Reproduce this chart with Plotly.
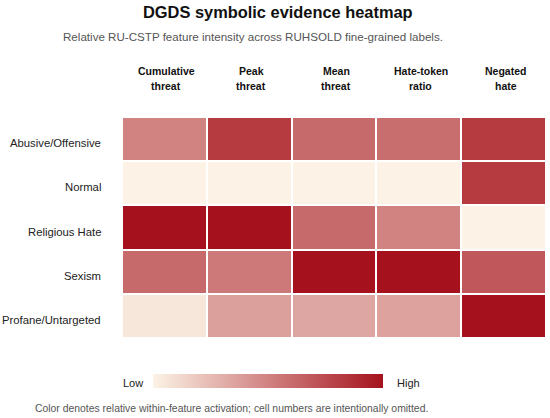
import plotly.graph_objects as go

features = ["Cumulative<br>threat", "Peak<br>threat", "Mean<br>threat",
            "Hate-token<br>ratio", "Negated<br>hate"]
labels = ["Abusive/Offensive", "Normal", "Religious Hate", "Sexism",
          "Profane/Untargeted"]

# relative within-feature activation (0 = low, 1 = high)
abusive = [0.50, 0.82, 0.61, 0.59, 0.82]
normal = [0.0, 0.0, 0.0, 0.0, 0.82]
religious = [1.0, 1.0, 0.61, 0.50, 0.0]
sexism = [0.61, 0.54, 1.0, 1.0, 0.69]
profane = [0.06, 0.37, 0.34, 0.36, 1.0]

z = [abusive, normal, religious, sexism, profane]

font = "Liberation Sans, Arial, sans-serif"
W, H = 550, 418
L, R, T, B = 122, 4, 117, 80
pw, ph = W - L - R, H - T - B


def px_x(x):
    # page px -> paper x
    return (x - L) / pw


def px_y(y):
    return (H - B - y) / ph


fig = go.Figure(go.Heatmap(
    z=z,
    x=features,
    y=labels,
    colorscale=[[0, "#fcf3e6"], [1, "#a5121d"]],
    zmin=0, zmax=1,
    xgap=2, ygap=2,
    hoverinfo="skip",
    colorbar=dict(
        orientation="h",
        lenmode="pixels", len=250,
        thickness=14,
        x=px_x(268), xanchor="center",
        y=px_y(381), yanchor="middle",
        outlinewidth=0,
        showticklabels=False,
        ticks="",
    ),
))

fig.update_xaxes(side="top", showgrid=False, zeroline=False, automargin=False,
                 showticklabels=False)
fig.update_yaxes(autorange="reversed", showgrid=False, zeroline=False,
                 automargin=False, showticklabels=False)

annotations = [
    dict(text="<b>DGDS symbolic evidence heatmap</b>",
         xref="paper", yref="paper", x=px_x(278), y=px_y(12),
         xanchor="center", yanchor="middle", showarrow=False,
         font=dict(size=16.4, color="#111")),
    dict(text="Relative RU-CSTP feature intensity across RUHSOLD fine-grained labels.",
         xref="paper", yref="paper", x=px_x(253), y=px_y(36),
         xanchor="center", yanchor="middle", showarrow=False,
         font=dict(size=11.6, color="#555")),
    dict(text="Low", xref="paper", yref="paper", x=px_x(145), y=px_y(383),
         xanchor="right", yanchor="middle", showarrow=False,
         font=dict(size=11, color="#222")),
    dict(text="High", xref="paper", yref="paper", x=px_x(395), y=px_y(383),
         xanchor="left", yanchor="middle", showarrow=False,
         font=dict(size=11, color="#222")),
    dict(text="Color denotes relative within-feature activation; cell numbers are intentionally omitted.",
         xref="paper", yref="paper", x=px_x(231), y=px_y(408),
         xanchor="center", yanchor="middle", showarrow=False,
         font=dict(size=10.4, color="#555")),
]

# column headers, two lines each, a bit more open than plotly's line height
for f in features:
    for line, ys in zip(f.split("<br>"), (71, 86)):
        annotations.append(dict(
            text=f"<b>{line}</b>", xref="x", yref="paper", x=f, y=px_y(ys),
            xshift=2, xanchor="center", yanchor="middle", showarrow=False,
            font=dict(size=10.5, color="#111")))

# row labels, right-aligned left of the grid
for lab in labels:
    annotations.append(dict(
        text=lab, xref="paper", yref="y", x=px_x(102.5), y=lab, yshift=-4,
        xanchor="right", yanchor="middle", showarrow=False,
        font=dict(size=11.3, color="#222")))

fig.update_layout(
    width=W, height=H,
    margin=dict(l=L, r=R, t=T, b=B, autoexpand=False),
    paper_bgcolor="white", plot_bgcolor="white",
    font=dict(family=font),
    annotations=annotations,
)

# drop the browser's default 8px body margin so the figure sits at the corner
fig.write_html("out.html", config={"displayModeBar": False},
               post_script="document.body.style.margin = '0';")
